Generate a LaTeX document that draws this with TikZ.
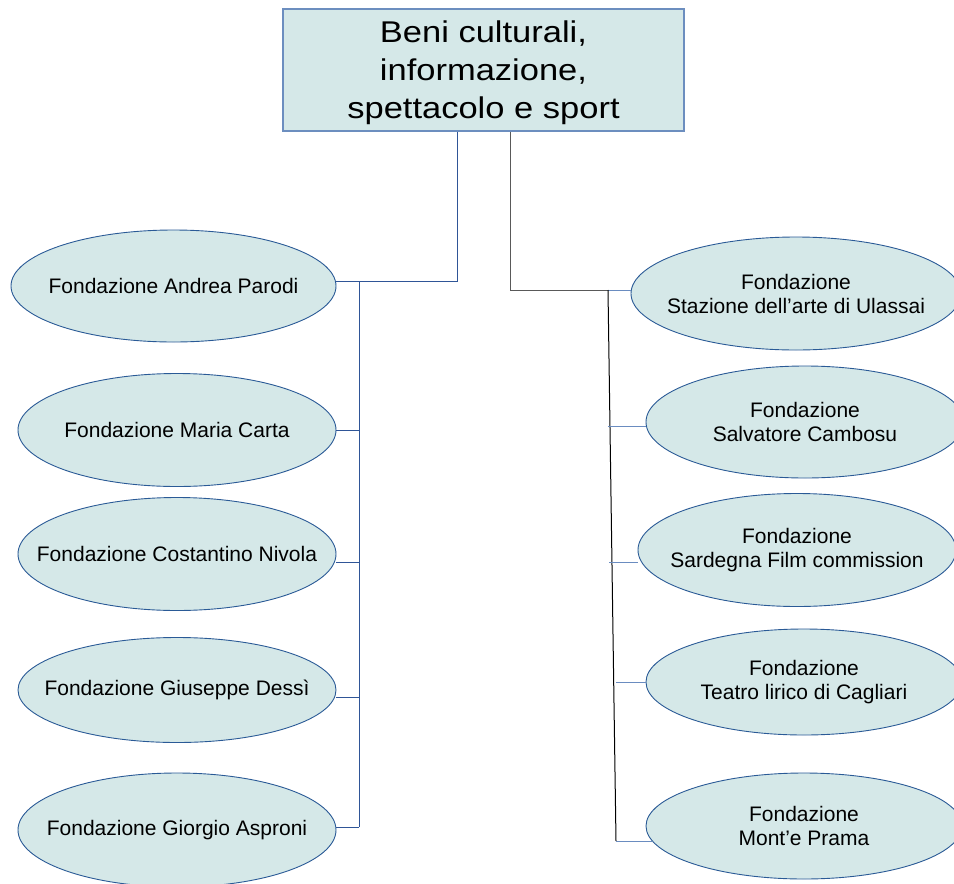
\documentclass[tikz,border=0pt]{standalone}
\usepackage{fontspec}
\setmainfont{Liberation Sans}
\newfontfamily\titlefont[FakeStretch=1.15]{Liberation Sans}
\usetikzlibrary{shapes.geometric}
\definecolor{fillc}{HTML}{D5E8E8}
\definecolor{ellb}{HTML}{2A5A96}
\definecolor{boxb}{HTML}{6C8EBF}
\definecolor{lconn}{HTML}{2F5597}
\definecolor{rconn}{HTML}{6A8CC0}
\tikzset{
  ell/.style={ellipse, draw=ellb, fill=fillc, line width=0.9pt, inner sep=0pt},
  elltext/.style={label={[align=center, font=\fontsize{21}{24}\selectfont]center:{#1}}},
  topbox/.style={rectangle, draw=boxb, fill=fillc, line width=1.2pt, inner sep=0pt},
  toptext/.style={align=center, inner sep=0pt, font=\titlefont\fontsize{30}{38}\selectfont},
  lwire/.style={draw=lconn, line width=1pt},
  rwire/.style={draw=rconn, line width=1pt},
  gwire/.style={draw=black!65, line width=1pt},
  bwire/.style={draw=black, line width=1pt}
}
\begin{document}
\begin{tikzpicture}[x=1pt,y=-1pt]
\useasboundingbox (0,0) rectangle (954,884);
\node[topbox, minimum width=401pt, minimum height=122pt] (top) at (483.5,70) {};
\node[toptext] (toplabel) at (483.5,73) {Beni culturali,\\informazione,\\spettacolo e sport};
% left ellipses
\node[ell, minimum width=325pt, minimum height=112pt, elltext={Fondazione Andrea Parodi}] (e1) at (173.5,286) {};
\node[ell, minimum width=318pt, minimum height=113pt, elltext={Fondazione Maria Carta}] (e2) at (177,430) {};
\node[ell, minimum width=318pt, minimum height=113pt, elltext={Fondazione Costantino Nivola}] (e3) at (177,554) {};
\node[ell, minimum width=318pt, minimum height=105pt, elltext={Fondazione Giuseppe Dessì}] (e4) at (177,690) {};
\node[ell, minimum width=318pt, minimum height=114pt, elltext={Fondazione Giorgio Asproni}] (e5) at (177,830) {};
% right ellipses
\node[ell, minimum width=330pt, minimum height=113pt, elltext={Fondazione\\Stazione dell’arte di Ulassai}] (r1) at (796,293.5) {};
\node[ell, minimum width=318pt, minimum height=112pt, elltext={Fondazione\\Salvatore Cambosu}] (r2) at (805,422) {};
\node[ell, minimum width=318pt, minimum height=113pt, elltext={Fondazione\\Sardegna Film commission}] (r3) at (797,550) {};
\node[ell, minimum width=316pt, minimum height=106pt, elltext={Fondazione\\Teatro lirico di Cagliari}] (r4) at (804,682) {};
\node[ell, minimum width=316pt, minimum height=106pt, elltext={Fondazione\\Mont’e Prama}] (r5) at (804,826) {};
% left connectors
\coordinate (lt) at (457,281);
\coordinate (lb1) at (359,281);
\coordinate (lb2) at (359,430);
\coordinate (lb3) at (359,562);
\coordinate (lb4) at (359,697);
\coordinate (lb5) at (359,827);
\draw[lwire] (top.south -| lt) -- (lt) -- (e1.east |- lt);
\draw[lwire] (lb1) -- (lb5);
\draw[lwire] (lb2) -- (e2.east |- lb2);
\draw[lwire] (lb3) -- (e3.east |- lb3);
\draw[lwire] (lb4) -- (e4.east |- lb4);
\draw[lwire] (lb5) -- (e5.east |- lb5);
% right connectors
\coordinate (rt) at (510,290);
\coordinate (rb1) at (608,290);
\coordinate (rb5) at (616,841);
\coordinate (rb2) at (608,426);
\coordinate (rb3) at (609,562);
\coordinate (rb4) at (616,682);
\draw[gwire] (top.south -| rt) -- (rt) -- (rb1);
\draw[rwire] (rb1) -- (r1.west |- rb1);
\draw[bwire] (rb1) -- (rb5);
\draw[rwire] (rb2) -- (646,426);
\draw[rwire] (rb3) -- (r3.west |- rb3);
\draw[rwire] (rb4) -- (r4.west |- rb4);
\draw[rwire] (rb5) -- (652,841);
\end{tikzpicture}
\end{document}
